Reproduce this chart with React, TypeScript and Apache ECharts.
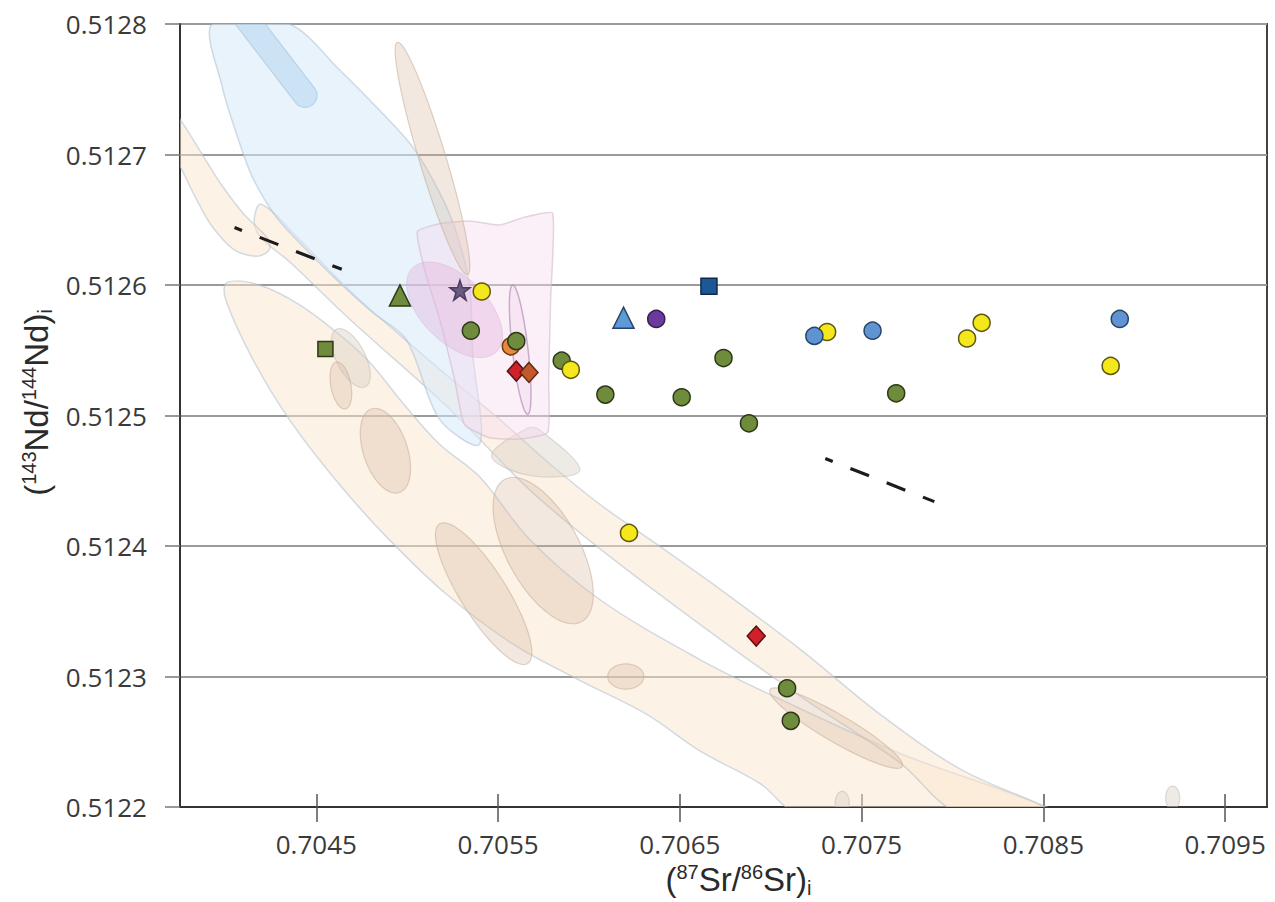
import React, { useEffect, useRef } from "react";
import * as echarts from "echarts";

// ---------- axes ----------
const X_MIN = 0.70375;
const X_MAX = 0.70973;
const X_TICKS = [0.7045, 0.7055, 0.7065, 0.7075, 0.7085, 0.7095];
const Y_MIN = 0.5122;
const Y_MAX = 0.5128;
const Y_STEP = 0.0001;

// ---------- samples: [87Sr/86Sr, 143Nd/144Nd] ----------
const orangeCircles = [[0.70557, 0.512553]];
const greenCircles = [
  [0.70535, 0.512565], [0.7056, 0.512557], [0.70585, 0.512542], [0.70609, 0.512516],
  [0.70651, 0.512514], [0.70674, 0.512544], [0.70688, 0.512494], [0.70769, 0.512517],
  [0.70709, 0.512291], [0.70711, 0.512266],
];
const yellowCircles = [
  [0.70541, 0.512595], [0.7059, 0.512535], [0.70622, 0.51241], [0.70731, 0.512564],
  [0.70808, 0.512559], [0.70816, 0.512571], [0.70887, 0.512538],
];
const blueCircles = [[0.70724, 0.512561], [0.70756, 0.512565], [0.70892, 0.512574]];
const purpleCircles = [[0.70637, 0.512574]];
const blueTriangles = [[0.70619, 0.512575]];
const greenTriangles = [[0.70496, 0.512592]];
const greenSquares = [[0.70455, 0.512551]];
const navySquares = [[0.70666, 0.512599]];
const stars = [[0.70529, 0.512596]];
const redDiamonds = [[0.7056, 0.512534], [0.70692, 0.512331]];
const brownDiamonds = [[0.70567, 0.512533]];

// dashed trends
const trendUpperLeft = [[0.70405, 0.512644], [0.70464, 0.512612]];
const trendLowerRight = [[0.7073, 0.512467], [0.7079, 0.512434]];

// ---------- reference fields (outlines in data units) ----------
const fieldLowerBand = [
  [0.70401, 0.512602], [0.704186, 0.5126], [0.704406, 0.512585], [0.704627, 0.512562],
  [0.704792, 0.512541], [0.704985, 0.512508], [0.705178, 0.512478], [0.705398, 0.512453],
  [0.705674, 0.512405], [0.706059, 0.512359], [0.70661, 0.512313], [0.707045, 0.512283],
  [0.707712, 0.512241], [0.708406, 0.512206], [0.708539, 0.512195],
  [0.707161, 0.512195], [0.706941, 0.512218], [0.70661, 0.512243], [0.706318, 0.512271],
  [0.705949, 0.512297], [0.70558, 0.512325], [0.705216, 0.512363], [0.704886, 0.512407],
  [0.70461, 0.51245], [0.704351, 0.512497], [0.704147, 0.512544], [0.703999, 0.51259],
];
const fieldMiddleBand = [
  [0.704197, 0.512662], [0.704406, 0.512635], [0.704682, 0.512596], [0.704957, 0.512562],
  [0.705233, 0.512529], [0.705508, 0.512497], [0.705784, 0.512463], [0.706059, 0.512432],
  [0.706335, 0.512405], [0.70672, 0.512367], [0.707161, 0.512321], [0.707602, 0.512271],
  [0.708043, 0.512229], [0.708483, 0.512202], [0.708594, 0.512195],
  [0.708043, 0.512195], [0.707701, 0.512235], [0.707161, 0.512285], [0.70661, 0.51234],
  [0.706059, 0.512398], [0.705674, 0.512443], [0.705233, 0.512505], [0.704682, 0.512574],
  [0.704351, 0.512618], [0.704197, 0.512636], [0.704158, 0.512649],
];
const fieldLeftBand = [
  [0.70369, 0.512735], [0.703745, 0.512728], [0.703855, 0.512704], [0.703977, 0.512677],
  [0.704103, 0.512654], [0.70423, 0.512636], [0.704241, 0.512627], [0.704175, 0.512622],
  [0.704048, 0.512627], [0.703921, 0.512646], [0.703828, 0.512669], [0.703745, 0.512692],
  [0.70369, 0.5127],
];
const fieldBlue = [
  [0.703927, 0.5128], [0.704351, 0.5128], [0.704627, 0.512765], [0.704847, 0.512734],
  [0.705029, 0.512706], [0.705178, 0.512671], [0.705271, 0.51264], [0.705343, 0.512599],
  [0.70536, 0.512548], [0.705398, 0.512478], [0.705178, 0.512497], [0.704996, 0.512558],
  [0.704809, 0.512579], [0.704627, 0.512602], [0.704445, 0.512627], [0.70428, 0.512652],
  [0.704147, 0.512683], [0.704065, 0.512714], [0.703982, 0.512752],
];
const fieldPink = [
  [0.705056, 0.512641], [0.705178, 0.512647], [0.705343, 0.512649], [0.705508, 0.512646],
  [0.705646, 0.512652], [0.7058, 0.512655], [0.705789, 0.512589], [0.705778, 0.512528],
  [0.705773, 0.512487], [0.705618, 0.512482], [0.705453, 0.512483], [0.705315, 0.512493],
  [0.70526, 0.512528], [0.705178, 0.512574], [0.705095, 0.512612],
];
const fieldTanTriangle = [
  [0.705464, 0.512469], [0.705657, 0.51249], [0.705729, 0.512489], [0.705949, 0.512458],
  [0.705674, 0.512454],
];

// elongated fields: axis end points + width/length ratio
const ellBlueBar = { a: [0.704076, 0.512811], b: [0.704478, 0.512738], k: 0.2 };
const ellTanNarrow = { a: [0.704946, 0.512786], b: [0.705332, 0.512608], k: 0.11 };
const ellMagenta = { a: [0.705029, 0.512613], b: [0.705492, 0.512549], k: 0.55 };
const ellPinkThin = { a: [0.70558, 0.5126], b: [0.705663, 0.512501], k: 0.12 };
const ellGreyNearSquare = { a: [0.70461, 0.512566], b: [0.70477, 0.512522], k: 0.45 };
const ellTanSmall = { a: [0.70461, 0.512541], b: [0.70466, 0.512505], k: 0.42 };
const ellTanMedium = { a: [0.704803, 0.512505], b: [0.704957, 0.512441], k: 0.5 };
const ellTanLong = { a: [0.705178, 0.512417], b: [0.705663, 0.51231], k: 0.28 };
const ellTanLarge = { a: [0.705536, 0.512451], b: [0.70596, 0.512342], k: 0.45 };
const ellTanRound = { a: [0.706103, 0.5123], b: [0.706302, 0.5123], k: 0.7 };
const ellBandEnd = { a: [0.706996, 0.51229], b: [0.707723, 0.512231], k: 0.18 };
const ellGreyDotA = { a: [0.707393, 0.512212], b: [0.707393, 0.512194], k: 0.6 };
const ellGreyDotB = { a: [0.709211, 0.512216], b: [0.709211, 0.512198], k: 0.6 };

// ---------- styles ----------
const OUTLINE = "rgba(170,188,206,0.5)";
const sBand = { fill: "rgba(252,230,205,0.5)", stroke: OUTLINE, lineWidth: 1.5 };
const sBlue = { fill: "rgba(214,234,250,0.55)", stroke: OUTLINE, lineWidth: 1.5 };
const sBlueBar = { fill: "rgba(175,212,240,0.5)", stroke: "rgba(160,190,215,0.5)", lineWidth: 1.2 };
const sTan = { fill: "rgba(214,184,156,0.32)", stroke: "rgba(195,175,155,0.55)", lineWidth: 1.2 };
const sGrey = { fill: "rgba(218,208,198,0.45)", stroke: "rgba(195,188,182,0.5)", lineWidth: 1.2 };
const sPink = { fill: "rgba(247,220,239,0.45)", stroke: "rgba(212,185,208,0.6)", lineWidth: 1.5 };
const sMagenta = { fill: "rgba(228,178,220,0.4)", stroke: "rgba(212,175,208,0.45)", lineWidth: 1 };
const sPinkThin = { fill: "rgba(240,212,236,0.35)", stroke: "rgba(175,140,178,0.65)", lineWidth: 1.5 };

const FONT = "'Open Sans', 'DejaVu Sans', sans-serif";
const TITLE_FONT = "'Liberation Sans', Arial, sans-serif";

function polygonSeries(pts: number[][], style: any, smooth = 0.3) {
  return {
    type: "custom",
    coordinateSystem: "cartesian2d",
    clip: true,
    silent: true,
    z: 1,
    data: [pts[0]],
    renderItem: (_p: any, api: any) => ({
      type: "polygon",
      shape: { points: pts.map((p) => api.coord(p)), smooth },
      style,
    }),
  };
}

function ellipseSeries(e: any, style: any, rounded = false) {
  return {
    type: "custom",
    coordinateSystem: "cartesian2d",
    clip: true,
    silent: true,
    z: 2,
    data: [e.a],
    renderItem: (_p: any, api: any) => {
      const a = api.coord(e.a);
      const b = api.coord(e.b);
      const dx = b[0] - a[0];
      const dy = b[1] - a[1];
      const len = Math.hypot(dx, dy) || 1;
      const ux = dx / len, uy = dy / len;
      const nx = -uy, ny = ux;
      const w = len * e.k;
      const cx = (a[0] + b[0]) / 2, cy = (a[1] + b[1]) / 2;
      const pts: number[][] = [];
      if (rounded) {
        const off = len / 2 - w / 2;
        const r = w / 2;
        for (let i = 0; i <= 24; i++) {
          const t = -Math.PI / 2 + (Math.PI * i) / 24;
          const c = Math.cos(t), s = Math.sin(t);
          pts.push([cx + off * ux + r * (c * ux + s * nx), cy + off * uy + r * (c * uy + s * ny)]);
        }
        for (let i = 0; i <= 24; i++) {
          const t = Math.PI / 2 + (Math.PI * i) / 24;
          const c = Math.cos(t), s = Math.sin(t);
          pts.push([cx - off * ux + r * (c * ux + s * nx), cy - off * uy + r * (c * uy + s * ny)]);
        }
      } else {
        for (let i = 0; i < 72; i++) {
          const t = (2 * Math.PI * i) / 72;
          const u = (Math.cos(t) * len) / 2;
          const v = (Math.sin(t) * w) / 2;
          pts.push([cx + u * ux + v * nx, cy + u * uy + v * ny]);
        }
      }
      return { type: "polygon", shape: { points: pts }, style };
    },
  };
}

function scatter(data: number[][], symbol: string, size: any, color: string, border: string) {
  return {
    type: "scatter",
    data,
    symbol,
    symbolSize: size,
    z: 5,
    itemStyle: { color, borderColor: border, borderWidth: 1.5, opacity: 1 },
  };
}

function trend(data: number[][]) {
  return {
    type: "line",
    data,
    symbol: "none",
    z: 4,
    lineStyle: { color: "#1c1c1c", width: 3.2, type: [20, 19], dashOffset: 12 },
  };
}

const STAR =
  "path://M50,0 L61.8,35.3 L98.8,35.3 L68.9,57.1 L80.3,92.4 L50,70.6 L19.7,92.4 L31.1,57.1 L1.2,35.3 L38.2,35.3 Z";

const titleRich = {
  a: { fontSize: 33, fontFamily: TITLE_FONT, color: "#2a2a2a", lineHeight: 36 },
  s: { fontSize: 20, fontFamily: TITLE_FONT, color: "#2a2a2a", verticalAlign: "top", lineHeight: 20 },
  b: { fontSize: 20, fontFamily: TITLE_FONT, color: "#2a2a2a", verticalAlign: "bottom", lineHeight: 17 },
};

export default function App() {
  const ref = useRef<HTMLDivElement>(null);

  useEffect(() => {
    if (!ref.current) return;
    const chart = echarts.init(ref.current, undefined, { renderer: "svg" });
    const option: any = {
      animation: false,
      backgroundColor: "#ffffff",
      grid: {
        left: 180,
        right: 8,
        top: 24,
        bottom: 95,
        containLabel: false,
        outerBoundsMode: "none",
        show: true,
        borderColor: "#444",
        borderWidth: 2,
        backgroundColor: "transparent",
      },
      xAxis: [
        {
          type: "value",
          min: X_MIN,
          max: X_MAX,
          position: "bottom",
          axisLine: { show: true, onZero: false, lineStyle: { color: "#333", width: 2 } },
          axisTick: { show: true, customValues: X_TICKS, length: 15, lineStyle: { color: "#555", width: 1.5 } },
          axisLabel: {
            customValues: X_TICKS,
            formatter: (v: number) => v.toFixed(4),
            color: "#3a3a3a",
            fontSize: 26,
            fontFamily: FONT,
            margin: 24,
          },
          splitLine: { show: false },
          name: "{a|(}{s|87}{a|Sr/}{s|86}{a|Sr)}{b|i}",
          nameLocation: "middle",
          nameGap: 52,
          nameTextStyle: { rich: titleRich, padding: [0, 0, 0, 30] },
        },
        {
          type: "value",
          min: X_MIN,
          max: X_MAX,
          position: "bottom",
          axisLine: { show: false },
          axisTick: { show: true, inside: true, customValues: X_TICKS, length: 13, lineStyle: { color: "#555", width: 1.5 } },
          axisLabel: { show: false },
          splitLine: { show: false },
        },
      ],
      yAxis: {
        type: "value",
        min: Y_MIN,
        max: Y_MAX,
        interval: Y_STEP,
        axisLine: { show: true, onZero: false, lineStyle: { color: "#333", width: 2 } },
        axisTick: { show: true, length: 15, lineStyle: { color: "#777", width: 1.5 } },
        axisLabel: {
          formatter: (v: number) => v.toFixed(4),
          color: "#3a3a3a",
          fontSize: 26,
          fontFamily: FONT,
          margin: 33,
        },
        splitLine: { show: true, lineStyle: { color: "#9a9a9a", width: 2 } },
        name: "{a|(}{s|143}{a|Nd/}{s|144}{a|Nd)}{b|i}",
        nameLocation: "middle",
        nameGap: 124,
        nameTextStyle: { rich: titleRich, padding: [0, 0, 0, 26] },
      },
      series: [
        polygonSeries(fieldLowerBand, sBand, 0.35),
        polygonSeries(fieldMiddleBand, sBand, 0.35),
        polygonSeries(fieldLeftBand, sBand, 0.3),
        polygonSeries(fieldBlue, sBlue, 0.3),
        ellipseSeries(ellBlueBar, sBlueBar, true),
        ellipseSeries(ellTanNarrow, sTan),
        ellipseSeries(ellGreyNearSquare, sGrey),
        ellipseSeries(ellTanSmall, sTan),
        ellipseSeries(ellTanMedium, sTan),
        ellipseSeries(ellTanLong, sTan),
        ellipseSeries(ellTanLarge, sTan),
        ellipseSeries(ellTanRound, sTan),
        ellipseSeries(ellBandEnd, sTan),
        ellipseSeries(ellGreyDotA, sGrey),
        ellipseSeries(ellGreyDotB, sGrey),
        polygonSeries(fieldTanTriangle, sGrey, 0.35),
        polygonSeries(fieldPink, sPink, 0.15),
        ellipseSeries(ellMagenta, sMagenta),
        ellipseSeries(ellPinkThin, sPinkThin),
        trend(trendUpperLeft),
        trend(trendLowerRight),
        scatter(orangeCircles, "circle", 17, "#e8883e", "#6a3a10"),
        scatter(greenCircles, "circle", 17, "#6f8b3c", "#2c3818"),
        scatter(yellowCircles, "circle", 17, "#f4e81c", "#5e5612"),
        scatter(blueCircles, "circle", 17, "#5f93d2", "#2a4466"),
        scatter(purpleCircles, "circle", 17, "#6b3a9c", "#35204f"),
        scatter(blueTriangles, "triangle", 21, "#5d9ad6", "#2a4466"),
        scatter(greenTriangles, "triangle", 21, "#6f8b3c", "#2c3818"),
        scatter(greenSquares, "rect", 15, "#6f8b3c", "#2c3818"),
        scatter(navySquares, "rect", 16, "#1d5896", "#0e2a4a"),
        scatter(stars, STAR, 20, "#6a5c7e", "#4a3c5e"),
        scatter(redDiamonds, "diamond", [18, 20], "#d0202a", "#5a1010"),
        scatter(brownDiamonds, "diamond", [18, 20], "#c2582c", "#5a2a10"),
      ],
    };
    chart.setOption(option);
    return () => chart.dispose();
  }, []);

  return (
    <div
      ref={ref}
      style={{ position: "fixed", left: 0, top: 0, width: 1275, height: 902, background: "#fff" }}
    />
  );
}
